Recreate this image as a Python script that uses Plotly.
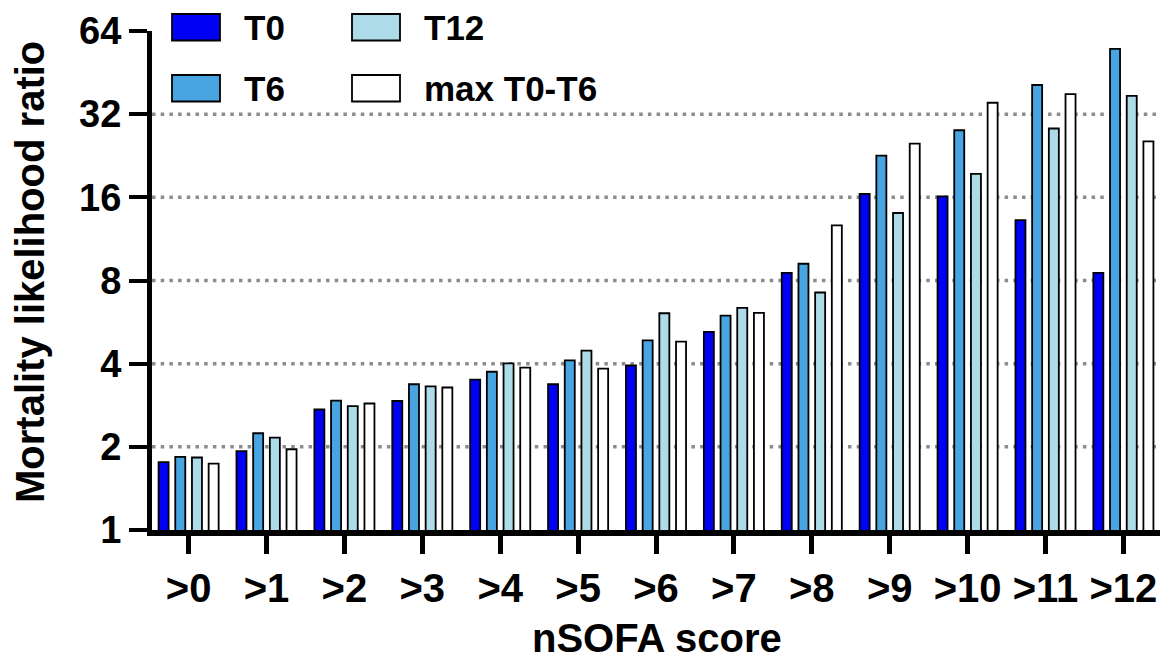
import plotly.graph_objects as go

categories = [">0", ">1", ">2", ">3", ">4", ">5", ">6", ">7", ">8", ">9", ">10", ">11", ">12"]

t0 = [1.76, 1.93, 2.73, 2.93, 3.50, 3.37, 3.94, 5.21, 8.53, 16.45, 16.13, 13.24, 8.53]
t6 = [1.84, 2.24, 2.94, 3.37, 3.74, 4.11, 4.86, 5.97, 9.20, 22.66, 27.99, 40.8, 55.1]
t12 = [1.83, 2.16, 2.81, 3.31, 4.01, 4.46, 6.09, 6.37, 7.24, 14.04, 19.44, 28.4, 37.3]
max_t0_t6 = [1.74, 1.96, 2.87, 3.28, 3.87, 3.84, 4.81, 6.11, 12.67, 25.05, 35.2, 37.8, 25.5]

series_names = ["T0", "T6", "T12", "max T0-T6"]
series_values = [t0, t6, t12, max_t0_t6]
series_colors = ["#0000F5", "#49A5E2", "#ADDBE8", "#FFFFFF"]

y_tick_vals = [1, 2, 4, 8, 16, 32, 64]
grid_vals = [2, 4, 8, 16, 32]

FONT = "Liberation Sans, Arial, Helvetica, sans-serif"

fig = go.Figure()
for name, vals, col in zip(series_names, series_values, series_colors):
    fig.add_trace(go.Bar(
        x=categories, y=vals, name=name,
        marker=dict(color=col, line=dict(color="black", width=1.8)),
        showlegend=False,
    ))

shapes = []
for g in grid_vals:
    shapes.append(dict(type="line", xref="paper", yref="y", x0=0, x1=1, y0=g, y1=g,
                       line=dict(color="#8c8c8c", width=3.5, dash="3.5px,5.2px"),
                       layer="below"))

# custom legend (2 columns x 2 rows)
W, H = 1008.0, 499.0
def px_x(p):
    return (p - 152) / W
def px_y(p):
    return (530 - p) / H

legend_pos = [(172, 14), (172, 75), (352, 14), (352, 75)]
annotations = []
for (lx, ly), name, col in zip(legend_pos, series_names, series_colors):
    shapes.append(dict(type="rect", xref="paper", yref="paper",
                       x0=px_x(lx), x1=px_x(lx + 48), y0=px_y(ly + 26.5), y1=px_y(ly),
                       fillcolor=col, line=dict(color="black", width=1.8), layer="above"))
    annotations.append(dict(xref="paper", yref="paper", x=px_x(lx + 70), y=px_y(ly + 13.5),
                            text=name, showarrow=False, xanchor="left", yanchor="middle",
                            font=dict(family=FONT, size=35, color="black", weight="bold")))

annotations.append(dict(xref="paper", yref="paper", x=px_x(30), y=px_y(272),
                        text="Mortality likelihood ratio", textangle=-90, showarrow=False,
                        xanchor="center", yanchor="middle",
                        font=dict(family=FONT, size=40, color="black", weight="bold")))
annotations.append(dict(xref="paper", yref="paper", x=px_x(657), y=px_y(638),
                        text="nSOFA score", showarrow=False,
                        xanchor="center", yanchor="middle",
                        font=dict(family=FONT, size=40, color="black", weight="bold")))

fig.update_layout(
    width=1160, height=661,
    margin=dict(l=152, r=0, t=31, b=131),
    paper_bgcolor="white", plot_bgcolor="white",
    barmode="group", bargap=0.143, bargroupgap=0.4,
    shapes=shapes, annotations=annotations,
    showlegend=False,
    font=dict(family=FONT, color="black"),
)
fig.update_xaxes(
    type="category", range=[-0.47, 12.47],
    showline=True, linecolor="black", linewidth=6,
    ticks="outside", ticklen=18, tickwidth=5, tickcolor="black",
    tickfont=dict(family=FONT, size=40, color="black", weight="bold"),
    showgrid=False, zeroline=False,
)
fig.update_yaxes(
    type="log", range=[0, 1.80618],
    tickvals=y_tick_vals, ticktext=[str(v) for v in y_tick_vals],
    showline=True, linecolor="black", linewidth=5,
    ticks="outside", ticklen=18, tickwidth=4, tickcolor="black",
    tickfont=dict(family=FONT, size=38, color="black", weight="bold"),
    showgrid=False, zeroline=False,
)

fig.write_html("out.html")
